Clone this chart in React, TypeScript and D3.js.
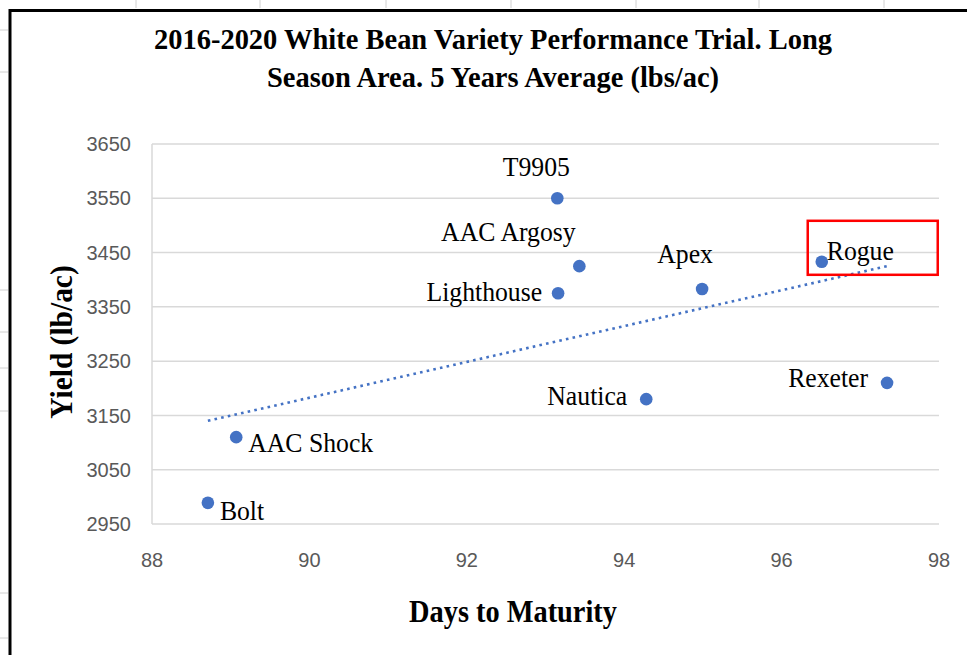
import * as d3 from "d3";

const varieties = ["Bolt", "AAC Shock", "T9905", "AAC Argosy", "Lighthouse", "Apex", "Nautica", "Rogue", "Rexeter"];
const daysToMaturity = [88.71, 89.07, 93.15, 93.43, 93.16, 94.99, 94.28, 96.51, 97.34];
const yieldLbAc = [2989, 3110, 3550, 3425, 3375, 3383, 3180, 3433, 3210];

const xTicks = [88, 90, 92, 94, 96, 98];
const yTicks = [2950, 3050, 3150, 3250, 3350, 3450, 3550, 3650];

const titleLines = ["2016-2020 White Bean Variety Performance Trial. Long", "Season Area. 5 Years Average (lbs/ac)"];
const xTitle = "Days to Maturity";
const yTitle = "Yield (lb/ac)";
const highlighted = "Rogue";

// label placement: anchor, dx, dy relative to the point
const LABEL_POS: Record<string, [string, number, number]> = {
  Bolt: ["start", 12, 17],
  "AAC Shock": ["start", 12, 15],
  T9905: ["middle", -21, -22],
  "AAC Argosy": ["middle", -71, -25],
  Lighthouse: ["end", -16, 8],
  Apex: ["middle", -17, -26],
  Nautica: ["end", -19, 6],
  Rogue: ["start", 5, -2],
  Rexeter: ["end", -19, 4],
};

const W = 967;
const H = 655;
const MARGIN = { top: 144, right: 28, bottom: 131, left: 152 };
const BLUE = "#4472C4";
const SERIF = "'Liberation Serif', 'Times New Roman', serif";
const SANS = "'Liberation Sans', Arial, sans-serif";

const SText = ({ x, y, size, sx = 0.93, anchor = "start", bold = false, rotate = 0, children }: any) => (
  <text
    transform={`translate(${x},${y}) rotate(${rotate}) scale(${sx},1)`}
    fontFamily={SERIF}
    fontSize={size}
    fontWeight={bold ? 700 : 400}
    textAnchor={anchor}
    fill="#000"
  >
    {children}
  </text>
);

export default function App() {
  const boundsWidth = W - MARGIN.left - MARGIN.right;
  const boundsHeight = H - MARGIN.top - MARGIN.bottom;

  const xScale = d3.scaleLinear().domain([88, 98]).range([0, boundsWidth]);
  const yScale = d3.scaleLinear().domain([2950, 3650]).range([boundsHeight, 0]);

  const data = varieties.map((name, i) => ({ name, x: daysToMaturity[i], y: yieldLbAc[i] }));

  // linear trendline (least squares)
  const mx = d3.mean(data, (d) => d.x) as number;
  const my = d3.mean(data, (d) => d.y) as number;
  const sxy = d3.sum(data, (d) => (d.x - mx) * (d.y - my));
  const sxx = d3.sum(data, (d) => (d.x - mx) ** 2);
  const slope = sxy / sxx;
  const icpt = my - slope * mx;
  const [xmin, xmax] = d3.extent(data, (d) => d.x) as [number, number];
  const trend = d3
    .line<number>()
    .x((v) => xScale(v))
    .y((v) => yScale(icpt + slope * v))([xmin, xmax]);

  const hl = data.find((d) => d.name === highlighted)!;

  const topMarks = [136, 260, 386, 511, 636, 759, 884];
  const leftMarks = [30, 72, 290, 332, 368, 411, 593, 638];

  return (
    <svg width={W} height={H} style={{ position: "absolute", left: 0, top: 0, background: "#fff" }}>
      {topMarks.map((m) => (
        <line key={m} x1={m} x2={m} y1={0} y2={8} stroke="#d0d0d0" strokeWidth={1} />
      ))}
      {leftMarks.map((m) => (
        <line key={m} x1={0} x2={8} y1={m} y2={m} stroke="#d0d0d0" strokeWidth={1} />
      ))}
      <path d={`M10,${H} V10.5 H${W}`} fill="none" stroke="#000" strokeWidth={3} />

      {titleLines.map((t, i) => (
        <SText key={i} x={493} y={49 + i * 38} size={30} sx={0.95} anchor="middle" bold>
          {t}
        </SText>
      ))}

      <g transform={`translate(${MARGIN.left},${MARGIN.top})`}>
        {yTicks.map((v) => (
          <g key={v}>
            <line x1={0} x2={boundsWidth} y1={yScale(v)} y2={yScale(v)} stroke="#d9d9d9" strokeWidth={1.5} />
            <text x={-21} y={yScale(v)} dy="0.36em" textAnchor="end" fontFamily={SANS} fontSize={20} fill="#595959">
              {v}
            </text>
          </g>
        ))}
        <line x1={0} x2={0} y1={0} y2={boundsHeight} stroke="#d9d9d9" strokeWidth={1.5} />
        {xTicks.map((v) => (
          <text key={v} x={xScale(v)} y={boundsHeight + 43} textAnchor="middle" fontFamily={SANS} fontSize={20} fill="#595959">
            {v}
          </text>
        ))}

        <path d={trend ?? ""} fill="none" stroke={BLUE} strokeWidth={2.6} strokeDasharray="2.6 4.2" />

        {data.map((d) => (
          <circle key={d.name} cx={xScale(d.x)} cy={yScale(d.y)} r={6.3} fill={BLUE} />
        ))}

        {data.map((d) => {
          const [anchor, dx, dy] = LABEL_POS[d.name];
          return (
            <SText key={d.name} x={xScale(d.x) + dx} y={yScale(d.y) + dy} size={27.5} sx={0.935} anchor={anchor}>
              {d.name}
            </SText>
          );
        })}

        <rect
          x={xScale(hl.x) - 14}
          y={yScale(hl.y) - 41}
          width={130}
          height={54}
          fill="none"
          stroke="#ff0000"
          strokeWidth={2.5}
        />
      </g>

      <SText x={513} y={622} size={31} sx={0.915} anchor="middle" bold>
        {xTitle}
      </SText>
      <SText x={72} y={342} size={31} sx={0.95} anchor="middle" bold rotate={-90}>
        {yTitle}
      </SText>
    </svg>
  );
}
